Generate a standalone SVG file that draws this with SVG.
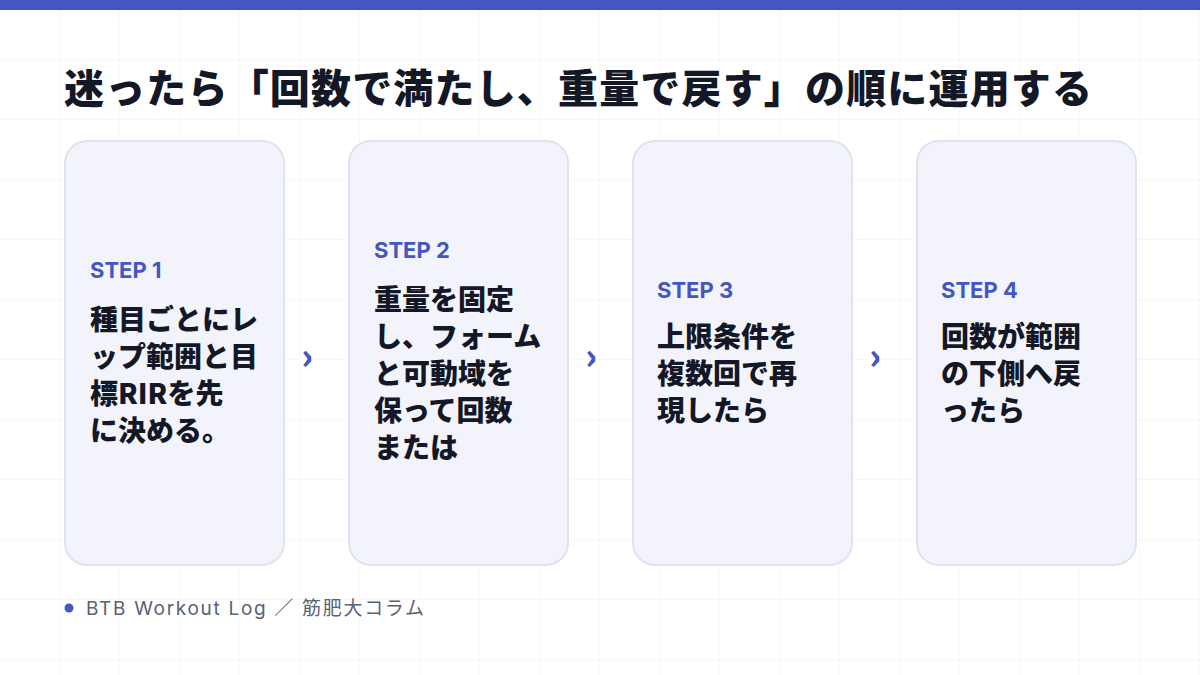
<svg xmlns="http://www.w3.org/2000/svg" width="1200" height="675" viewBox="0 0 1200 675">
<defs>
<pattern id="grid" width="60" height="60" patternUnits="userSpaceOnUse">
<path d="M60 0V60M0 60H60" fill="none" stroke="#eef0f4" stroke-width="1"/>
</pattern>
<style>
.card{fill:#f3f4fb;stroke:#dfe3ef;stroke-width:2}
.step{font-family:Inter,"Noto Sans CJK JP",sans-serif;font-weight:700;font-size:22px;fill:#4457c0}
.body{font-family:"Noto Sans CJK JP",sans-serif;font-weight:900;font-size:28px;fill:#141826}
.arr{font-family:"Noto Sans CJK JP",sans-serif;font-weight:900;font-size:36px;fill:#4457c0}
</style>
</defs>
<rect width="1200" height="675" fill="#ffffff"/>
<rect width="1200" height="675" fill="url(#grid)"/>
<rect width="1200" height="10" fill="#4457c0"/>
<text x="64" y="103" font-family="'Noto Sans CJK JP',sans-serif" font-weight="900" font-size="40" fill="#141826" textLength="1028" lengthAdjust="spacing">迷ったら「回数で満たし、重量で戻す」の順に運用する</text>
<g id="step1"><rect class="card" x="65" y="141" width="219" height="424" rx="22"/>
<text class="step" x="90" y="278">STEP 1</text>
<text class="body"><tspan x="90" y="330">種目ごとにレ</tspan><tspan x="90" y="367">ップ範囲と目</tspan><tspan x="90" y="404">標RIRを先</tspan><tspan x="90" y="441">に決める。</tspan></text></g>
<g id="step2"><rect class="card" x="349" y="141" width="219" height="424" rx="22"/>
<text class="step" x="374" y="258">STEP 2</text>
<text class="body"><tspan x="374" y="310">重量を固定</tspan><tspan x="374" y="347">し、フォーム</tspan><tspan x="374" y="384">と可動域を</tspan><tspan x="374" y="421">保って回数</tspan><tspan x="374" y="458">または</tspan></text></g>
<g id="step3"><rect class="card" x="633" y="141" width="219" height="424" rx="22"/>
<text class="step" x="657" y="298">STEP 3</text>
<text class="body"><tspan x="657" y="347">上限条件を</tspan><tspan x="657" y="384">複数回で再</tspan><tspan x="657" y="421">現したら</tspan></text></g>
<g id="step4"><rect class="card" x="917" y="141" width="219" height="424" rx="22"/>
<text class="step" x="941" y="298">STEP 4</text>
<text class="body"><tspan x="941" y="347">回数が範囲</tspan><tspan x="941" y="384">の下側へ戻</tspan><tspan x="941" y="421">ったら</tspan></text></g>
<g id="connectors">
<text class="arr" x="307" y="369" text-anchor="middle">›</text>
<text class="arr" x="591" y="369" text-anchor="middle">›</text>
<text class="arr" x="875" y="369" text-anchor="middle">›</text>
</g>
<circle cx="69" cy="608" r="4.5" fill="#4457c0"/>
<text x="86" y="615" font-family="Inter,'Noto Sans CJK JP',sans-serif" font-size="19" fill="#5a6275" textLength="338" lengthAdjust="spacing">BTB Workout Log ／ 筋肥大コラム</text>
</svg>
